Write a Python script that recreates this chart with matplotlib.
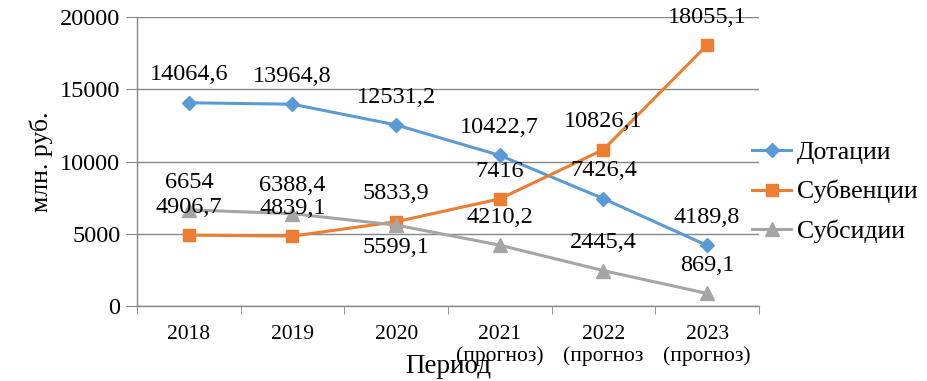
import matplotlib.pyplot as plt
from matplotlib.ticker import FixedLocator

plt.rcParams['font.family'] = ['Liberation Serif', 'DejaVu Serif']

# categories and series
years = ['2018', '2019', '2020', '2021\n(прогноз)', '2022\n(прогноз', '2023\n(прогноз)']
dotacii = [14064.6, 13964.8, 12531.2, 10422.7, 7426.4, 4189.8]
subvencii = [4906.7, 4839.1, 5833.9, 7416, 10826.1, 18055.1]
subsidii = [6654, 6388.4, 5599.1, 4210.2, 2445.4, 869.1]
dot_txt = ['14064,6', '13964,8', '12531,2', '10422,7', '7426,4', '4189,8']
sbv_txt = ['4906,7', '4839,1', '5833,9', '7416', '10826,1', '18055,1']
sbs_txt = ['6654', '6388,4', '5599,1', '4210,2', '2445,4', '869,1']

fig = plt.figure(figsize=(9.28, 3.81), dpi=100)
ax = fig.add_axes([137/928, 1 - 306/381, (759-137)/928, (306-17)/381])

x = list(range(len(years)))
grid_c = '#868686'

ax.plot(x, dotacii, color='#5B9BD5', lw=2.2, marker='D', ms=7, label='Дотации', zorder=3)
ax.plot(x, subvencii, color='#ED7D31', lw=2.2, marker='s', ms=9, label='Субвенции', zorder=3)
ax.plot(x, subsidii, color='#A5A5A5', lw=2.2, marker='^', ms=10, label='Субсидии', zorder=3)

# data labels (Excel puts them above; one below)
for series, txts in [(dotacii, dot_txt), (subvencii, sbv_txt), (subsidii, sbs_txt)]:
    for i, (v, t) in enumerate(zip(series, txts)):
        dy = 20
        if t == '5599,1':
            dy = -16
        ax.annotate(t, (i, v), xytext=(0, dy), textcoords='offset points',
                    ha='center', va='center', fontsize=17.5, zorder=4)

ax.set_xlim(-0.5, 5.5)
ax.set_ylim(0, 20000)
ax.set_yticks([0, 5000, 10000, 15000, 20000])
ax.set_xticks(x)
ax.set_xticklabels(years, fontsize=15.5, linespacing=1.15)
ax.xaxis.set_minor_locator(FixedLocator([i - 0.5 for i in range(7)]))
ax.tick_params(axis='x', which='major', length=0, pad=14)
ax.tick_params(axis='x', which='minor', length=6, color=grid_c, direction='out')
ax.tick_params(axis='y', length=8, color=grid_c, labelsize=17.5, pad=4)

ax.grid(axis='y', color=grid_c, lw=1)
ax.set_axisbelow(True)
for s in ['top', 'right']:
    ax.spines[s].set_visible(False)
for s in ['left', 'bottom']:
    ax.spines[s].set_color(grid_c)
    ax.spines[s].set_linewidth(1)

ax.set_ylabel('млн. руб.', fontsize=18.5)
ax.yaxis.set_label_coords(-84/622, 0.5)
ax.set_xlabel('Период', fontsize=19.5)
ax.xaxis.set_label_coords(0.5, -48/289)

ax.legend(loc='center left', bbox_to_anchor=(742/928, 1 - 192/381),
          bbox_transform=fig.transFigure, frameon=False, borderaxespad=0,
          fontsize=18.5, handlelength=1.5, labelspacing=0.62, handletextpad=0.25)

fig.savefig('out.png', dpi=100)
